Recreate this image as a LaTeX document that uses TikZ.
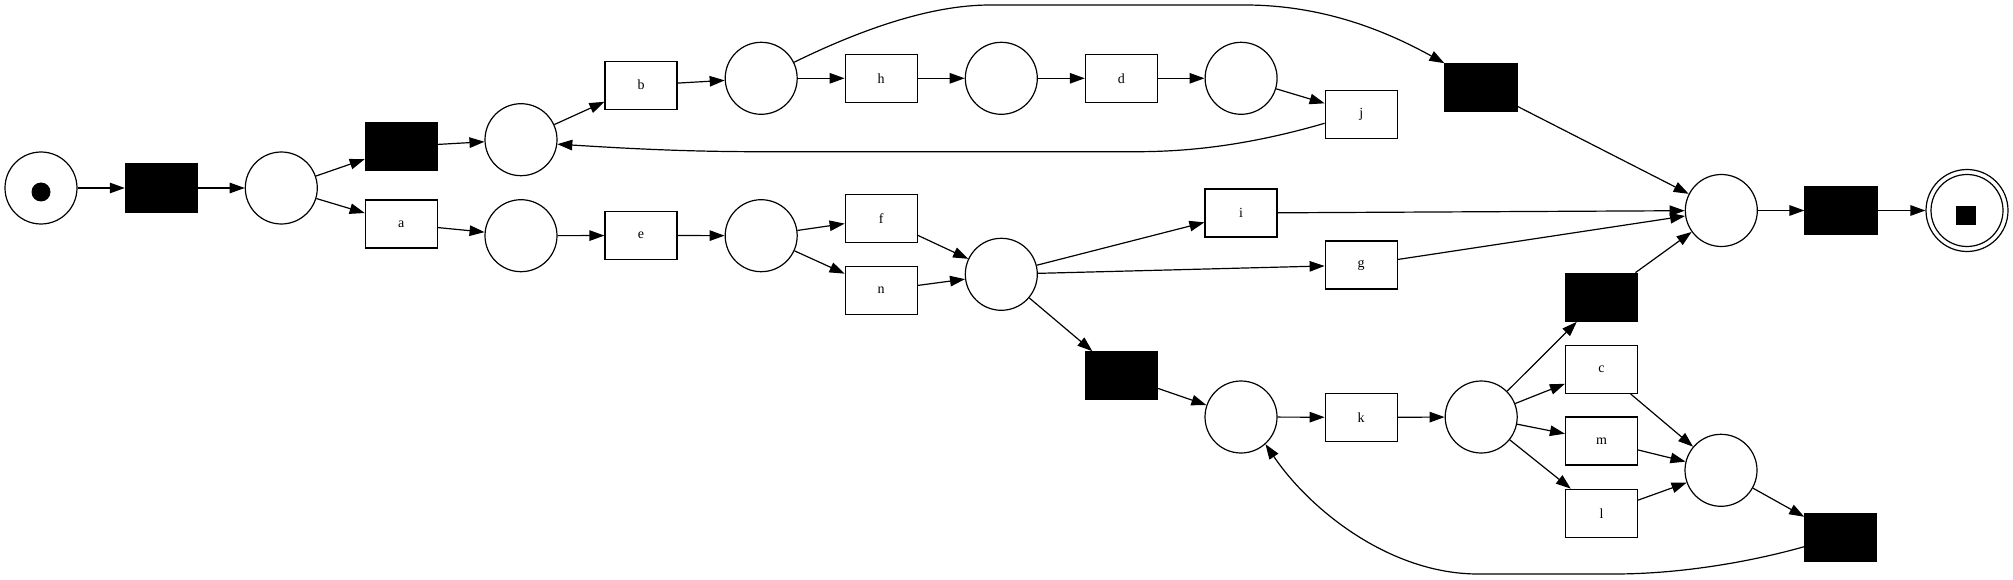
\documentclass[tikz,border=0pt]{standalone}
\usepackage{fontspec}
\setmainfont{Liberation Serif}
\usetikzlibrary{arrows.meta}
\begin{document}
\begin{tikzpicture}[x=1pt,y=-1pt,
  pl/.style={circle,draw,line width=1.2pt,minimum size=72pt,inner sep=0pt},
  tr/.style={rectangle,draw,line width=1.2pt,minimum width=72pt,minimum height=48pt,inner sep=0pt,font=\fontsize{14}{16}\selectfont},
  bt/.style={tr,fill=black},
  arc/.style={line width=1.2pt,-{Triangle[length=15pt,width=10.5pt]}},
]
\useasboundingbox (0,0) rectangle (2013,580);
% places
\node[pl] (p0) at (41,188) {};
\node[circle,fill=black,minimum size=19pt,inner sep=0pt] (tok0) at (41,192) {};
\node[pl] (p1) at (281.3,188) {};
\node[pl] (p2) at (521,139.7) {};
\node[pl] (p3) at (521,235.7) {};
\node[pl] (p4) at (761.2,78.3) {};
\node[pl] (p5) at (1001.3,78.3) {};
\node[pl] (p6) at (1241.1,78.3) {};
\node[pl] (p7) at (761.2,235.7) {};
\node[pl] (p8) at (1001.3,274.3) {};
\node[pl] (p9) at (1721.3,210.5) {};
\node[pl] (p10) at (1241,417) {};
\node[pl] (p11) at (1481.2,417) {};
\node[pl] (p12) at (1721,470.3) {};
\node[pl] (pend) at (1967,210.5) {};
\node[circle,draw,line width=1.2pt,minimum size=82pt,inner sep=0pt] (pendo) at (1967,210.5) {};
\node[rectangle,fill=black,minimum width=20pt,minimum height=19pt,inner sep=0pt] (tok1) at (1966,216) {};
% transitions
\node[bt] (t1) at (161.4,188) {};
\node[bt] (t2) at (401.3,146.5) {};
\node[tr] (a) at (401.3,224) {a};
\node[tr] (b) at (641,85.2) {b};
\node[tr] (e) at (641,235.5) {e};
\node[tr] (h) at (881.2,78.3) {h};
\node[tr] (d) at (1121.4,78.3) {d};
\node[tr] (j) at (1361.2,114.3) {j};
\node[bt] (t3) at (1481,87.8) {};
\node[tr] (f) at (881.2,218.3) {f};
\node[tr] (n) at (881.2,290.3) {n};
\node[tr] (i) at (1241,213) {i};
\node[tr] (g) at (1361.2,265) {g};
\node[bt] (t5) at (1121.4,375.8) {};
\node[tr] (k) at (1361.2,417.3) {k};
\node[bt] (t4) at (1601.5,297.2) {};
\node[tr] (c) at (1601.5,369.3) {c};
\node[tr] (m) at (1601.5,441) {m};
\node[tr] (l) at (1601.5,513.3) {l};
\node[bt] (t6) at (1840.8,537.2) {};
\node[bt] (tf) at (1841,210.5) {};
% arcs
\draw[arc] (p0) -- (t1);
\draw[arc] (t1) -- (p1);
\draw[arc] (p1) -- (t2);
\draw[arc] (p1) -- (a);
\draw[arc] (t2) -- (p2);
\draw[arc] (a) -- (p3);
\draw[arc] (p2) -- (b);
\draw[arc] (b) -- (p4);
\draw[arc] (p4) -- (h);
\draw[arc] (h) -- (p5);
\draw[arc] (p5) -- (d);
\draw[arc] (d) -- (p6);
\draw[arc] (p6) -- (j);
\draw[arc] ([yshift=-9pt]j.west) .. controls (1260,142) and (1200,151.7) .. (1137,151.7) -- (760,151.7) .. controls (680,151.7) and (620,148) .. (p2.-7);
\draw[arc] (p4.26) .. controls (860,30) and (930,5) .. (990,5) -- (1245,5) .. controls (1330,5) and (1395,36) .. (t3.north west);
\draw[arc] (p3) -- (e);
\draw[arc] (e) -- (p7);
\draw[arc] (p7) -- (f);
\draw[arc] (p7) -- (n);
\draw[arc] (f) -- (p8);
\draw[arc] (n) -- (p8);
\draw[arc] (p8) -- (i);
\draw[arc] (p8) -- (g);
\draw[arc] (p8) -- (t5);
\draw[arc] (i) -- (p9);
\draw[arc] (g) -- (p9);
\draw[arc] (t3) -- (p9);
\draw[arc] (t4) -- (p9);
\draw[arc] (t5) -- (p10);
\draw[arc] (p10) -- (k);
\draw[arc] (k) -- (p11);
\draw[arc] (p11) -- (t4);
\draw[arc] (p11) -- (c);
\draw[arc] (p11) -- (m);
\draw[arc] (p11) -- (l);
\draw[arc] (c) -- (p12);
\draw[arc] (m) -- (p12);
\draw[arc] (l) -- (p12);
\draw[arc] (p12) -- (t6);
\draw[arc] ([yshift=-9.5pt]t6.west) .. controls (1750,562) and (1680,574) .. (1614,574) -- (1478,574) .. controls (1390,574) and (1310,510) .. (p10.-48);
\draw[arc] (p9) -- (tf);
\draw[arc] (tf) -- (pendo);
\end{tikzpicture}
\end{document}
